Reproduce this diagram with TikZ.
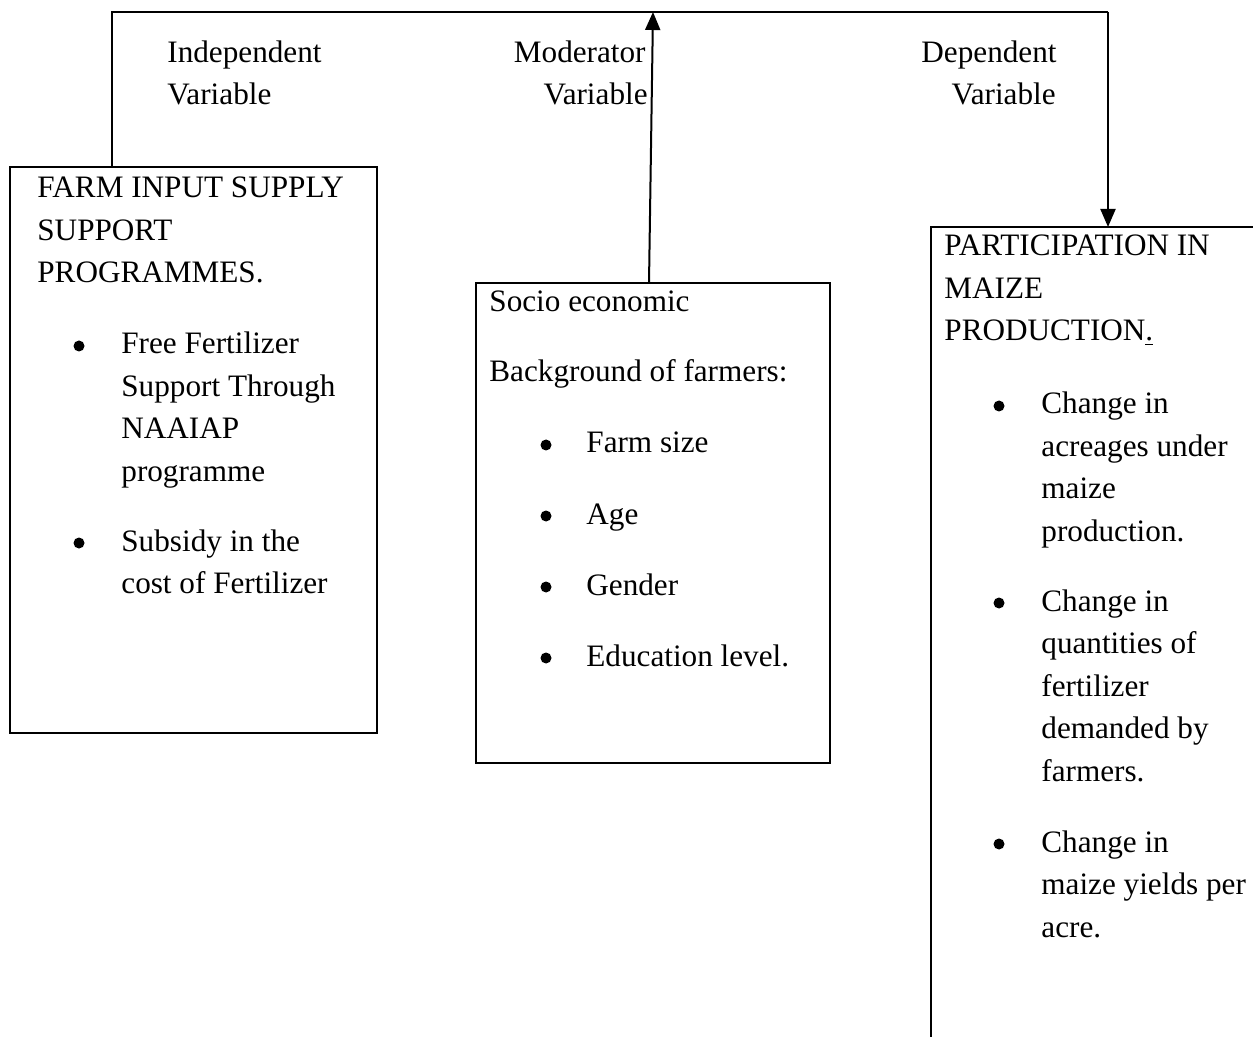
\documentclass[tikz,border=0pt]{standalone}
\usepackage{fontspec}
\setmainfont{Liberation Serif}
\usetikzlibrary{arrows.meta}
\begin{document}
\begin{tikzpicture}[x=0.5pt,y=-0.5pt,
  box/.style={draw,line width=1pt,inner sep=0pt,outer sep=0pt,anchor=north west},
  conn/.style={line width=1pt},
  arr/.style={line width=1pt,-{Triangle[length=9pt,width=7.5pt]}},
  txt/.style={anchor=base west,inner sep=0pt,font=\fontsize{15.6}{21}\selectfont},
  txtr/.style={anchor=base east,inner sep=0pt,font=\fontsize{15.6}{21}\selectfont},
  bul/.style={circle,fill,inner sep=0pt,minimum size=5.5pt}]
\useasboundingbox (0,0) rectangle (1253,1037);
\clip (0,0) rectangle (1253,1037);

% boxes
\node[box,minimum width=183.5pt,minimum height=283pt] (ind) at (10,167) {};
\node[box,minimum width=177pt,minimum height=240pt] (mod) at (476,283) {};
\node[box,minimum width=175pt,minimum height=420pt] (dep) at (931,227) {};

% connectors
\coordinate (tl) at (112,12);
\coordinate (tm) at (653,12);
\coordinate (tr) at (1108,12);
\draw[conn] (tl |- ind.north) -- (tl) -- (tr);
\draw[arr] (tr) -- (tr |- dep.north);
\draw[arr] ([xshift=-2pt]mod.north) -- (tm);

% headings
\node[txt] (hi1) at (167,63) {Independent};
\node[txt] (hi2) at (167,105) {Variable};
\node[txtr] (hm1) at (646,63) {Moderator};
\node[txtr] (hm2) at (648,105) {Variable};
\node[txtr] (hd1) at (1057,63) {Dependent};
\node[txtr] (hd2) at (1056,105) {Variable};

% left box
\foreach \t [count=\i] in {FARM INPUT SUPPLY, SUPPORT, PROGRAMMES.}
  \node[txt] (indT\i) at (37,{198+42.5*(\i-1)}) {\t};
\node[bul] (indB1) at (79,346) {};
\foreach \t [count=\i] in {Free Fertilizer, Support Through, NAAIAP, programme}
  \node[txt] (indA\i) at (121,{354+42.5*(\i-1)}) {\t};
\node[bul] (indB2) at (79,543) {};
\foreach \t [count=\i] in {Subsidy in the, cost of Fertilizer}
  \node[txt] (indC\i) at (121,{551+42.5*(\i-1)}) {\t};

% middle box
\node[txt] (modT1) at (489,312) {Socio economic};
\node[txt] (modT2) at (489,382) {Background of farmers:};
\foreach \t [count=\i] in {Farm size, Age, Gender, Education level.}{
  \node[bul] (modB\i) at (546,{445+71*(\i-1)}) {};
  \node[txt] (modI\i) at (586,{453+71*(\i-1)}) {\t};
}

% right box
\foreach \t [count=\i] in {PARTICIPATION IN, MAIZE, {PRODUCTION\underline{.}}}
  \node[txt] (depT\i) at (944,{256+42.5*(\i-1)}) {\t};
\node[bul] (depB1) at (999,406) {};
\foreach \t [count=\i] in {Change in, acreages under, maize, production.}
  \node[txt] (depA\i) at (1041,{414+42.5*(\i-1)}) {\t};
\node[bul] (depB2) at (999,603) {};
\foreach \t [count=\i] in {Change in, quantities of, fertilizer, demanded by, farmers.}
  \node[txt] (depC\i) at (1041,{611+42.5*(\i-1)}) {\t};
\node[bul] (depB3) at (999,844) {};
\foreach \t [count=\i] in {Change in, maize yields per, acre.}
  \node[txt] (depD\i) at (1041,{852+42.5*(\i-1)}) {\t};
\end{tikzpicture}
\end{document}
